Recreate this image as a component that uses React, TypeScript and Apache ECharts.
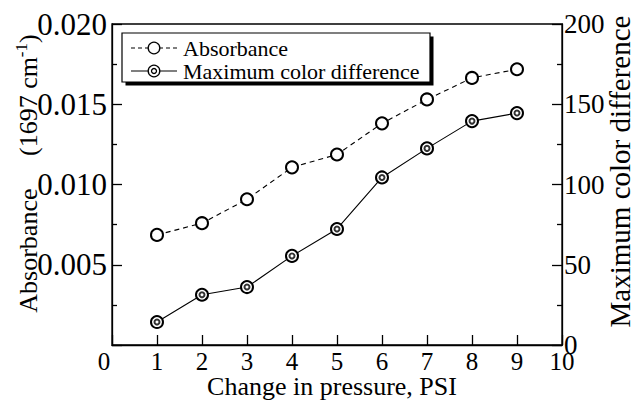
import React, { useEffect, useRef } from "react";
import * as echarts from "echarts";

const pressure = [1, 2, 3, 4, 5, 6, 7, 8, 9];
const absorbance = [0.00686, 0.00759, 0.00908, 0.01107, 0.01187, 0.01381, 0.0153, 0.01664, 0.01718];
const colorDifference = [14.3, 31.3, 36.1, 55.5, 72.3, 104.4, 122.5, 139.5, 144.5];
const seriesNames = ["Absorbance", "Maximum color difference"];
const xTitle = "Change in pressure, PSI";
const leftTitleMain = "Absorbance";
const leftTitleUnit = "(1697 cm";
const leftTitleSup = "-1";
const rightTitle = "Maximum color difference";

const FONT = "Times New Roman, Liberation Serif, DejaVu Serif, serif";
const BLACK = "#000";

export default function App() {
  const ref = useRef<HTMLDivElement>(null);
  useEffect(() => {
    const chart = echarts.init(ref.current!, null, { renderer: "svg" });
    const axisLineStyle = { color: BLACK, width: 1.3 };
    chart.setOption({
      animation: false,
      backgroundColor: "#fff",
      textStyle: { fontFamily: FONT },
      grid: {
        left: 112,
        right: 72,
        top: 24,
        bottom: 58,
        outerBoundsMode: "none",
        containLabel: false,
        show: true,
        borderColor: BLACK,
        borderWidth: 1.3,
        backgroundColor: "transparent",
      },
      xAxis: {
        type: "value",
        min: 0,
        max: 10,
        interval: 1,
        axisLine: { show: true, lineStyle: axisLineStyle },
        axisTick: { show: true, inside: true, length: 10, lineStyle: axisLineStyle },
        splitLine: { show: false },
        axisLabel: {
          color: BLACK,
          fontFamily: FONT,
          fontSize: 25,
          margin: 4,
          formatter: (v: number) => (v === 0 ? "{z|0}" : String(v)),
          rich: { z: { fontFamily: FONT, fontSize: 25, color: BLACK, padding: [0, 16, 0, 0] } },
        },
        name: xTitle,
        nameLocation: "middle",
        nameGap: 28,
        nameMoveOverlap: false,
        nameTextStyle: { color: BLACK, fontFamily: FONT, fontSize: 26, padding: [0, 10, 0, 0] },
      },
      yAxis: [
        {
          type: "value",
          position: "left",
          min: 0,
          max: 0.02,
          interval: 0.005,
          axisLine: { show: true, lineStyle: axisLineStyle },
          axisTick: { show: true, inside: true, length: 10, lineStyle: axisLineStyle },
          minorTick: { show: true, splitNumber: 2, length: 5, lineStyle: axisLineStyle },
          splitLine: { show: false },
          axisLabel: {
            color: BLACK,
            fontFamily: FONT,
            fontSize: 31,
            margin: 5,
            formatter: (v: number) => (v === 0 ? "" : v.toFixed(3)),
          },
          name: `{a|${leftTitleMain}     ${leftTitleUnit}}{s|${leftTitleSup}}{a|)}`,
          nameLocation: "middle",
          nameRotate: 90,
          nameGap: 69,
          nameMoveOverlap: false,
          nameTextStyle: {
            color: BLACK,
            fontFamily: FONT,
            fontSize: 26,
            padding: [0, 0, 0, 22],
            rich: {
              a: { fontFamily: FONT, fontSize: 26, color: BLACK, lineHeight: 30 },
              s: { fontFamily: FONT, fontSize: 17, color: BLACK, lineHeight: 17, verticalAlign: "top" },
            },
          },
        },
        {
          type: "value",
          position: "right",
          min: 0,
          max: 200,
          interval: 50,
          axisLine: { show: true, lineStyle: axisLineStyle },
          axisTick: { show: true, inside: true, length: 10, lineStyle: axisLineStyle },
          minorTick: { show: true, splitNumber: 2, length: 5, lineStyle: axisLineStyle },
          splitLine: { show: false },
          axisLabel: { color: BLACK, fontFamily: FONT, fontSize: 27, margin: 2 },
          name: rightTitle,
          nameLocation: "middle",
          nameRotate: 90,
          nameGap: 43,
          nameMoveOverlap: false,
          nameTextStyle: { color: BLACK, fontFamily: FONT, fontSize: 29, padding: [0, 0, 0, 26] },
        },
      ],
      series: [
        {
          name: seriesNames[0],
          type: "line",
          yAxisIndex: 0,
          data: pressure.map((x, i) => [x, absorbance[i]]),
          lineStyle: { color: BLACK, width: 1.1, type: [5, 4] },
          symbol: "emptyCircle",
          symbolSize: 12,
          itemStyle: { color: BLACK, borderWidth: 1.3 },
          z: 3,
        },
        {
          name: seriesNames[1],
          type: "line",
          yAxisIndex: 1,
          data: pressure.map((x, i) => [x, colorDifference[i]]),
          lineStyle: { color: BLACK, width: 1.1 },
          symbol: "emptyCircle",
          symbolSize: 12,
          itemStyle: { color: BLACK, borderWidth: 1.3 },
          z: 3,
        },
        {
          name: seriesNames[1] + " inner",
          type: "scatter",
          yAxisIndex: 1,
          data: pressure.map((x, i) => [x, colorDifference[i]]),
          symbol: "emptyCircle",
          symbolSize: 5,
          itemStyle: { color: BLACK, borderWidth: 1.3 },
          silent: true,
          z: 4,
        },
      ],
      graphic: [
        { type: "rect", shape: { x: 125.5, y: 36.5, width: 308, height: 49 }, style: { fill: BLACK } },
        {
          type: "rect",
          shape: { x: 122, y: 33, width: 308, height: 49 },
          style: { fill: "#fff", stroke: BLACK, lineWidth: 1.2 },
        },
        {
          type: "line",
          shape: { x1: 131, y1: 48, x2: 177, y2: 48 },
          style: { stroke: BLACK, lineWidth: 1.1, lineDash: [4, 3] },
        },
        { type: "circle", shape: { cx: 154, cy: 48, r: 5.8 }, style: { fill: "#fff", stroke: BLACK, lineWidth: 1.3 } },
        {
          type: "text",
          x: 183,
          y: 48,
          style: { text: seriesNames[0], fontFamily: FONT, fontSize: 22, fill: BLACK, verticalAlign: "middle" },
        },
        {
          type: "line",
          shape: { x1: 131, y1: 71, x2: 177, y2: 71 },
          style: { stroke: BLACK, lineWidth: 1.1 },
        },
        { type: "circle", shape: { cx: 154, cy: 71, r: 5.8 }, style: { fill: "#fff", stroke: BLACK, lineWidth: 1.3 } },
        { type: "circle", shape: { cx: 154, cy: 71, r: 2.5 }, style: { fill: "#fff", stroke: BLACK, lineWidth: 1.3 } },
        {
          type: "text",
          x: 183,
          y: 71,
          style: { text: seriesNames[1], fontFamily: FONT, fontSize: 22, fill: BLACK, verticalAlign: "middle" },
        },
      ],
    });
    return () => chart.dispose();
  }, []);
  return <div ref={ref} style={{ position: "absolute", left: 0, top: 0, width: 634, height: 403 }} />;
}
